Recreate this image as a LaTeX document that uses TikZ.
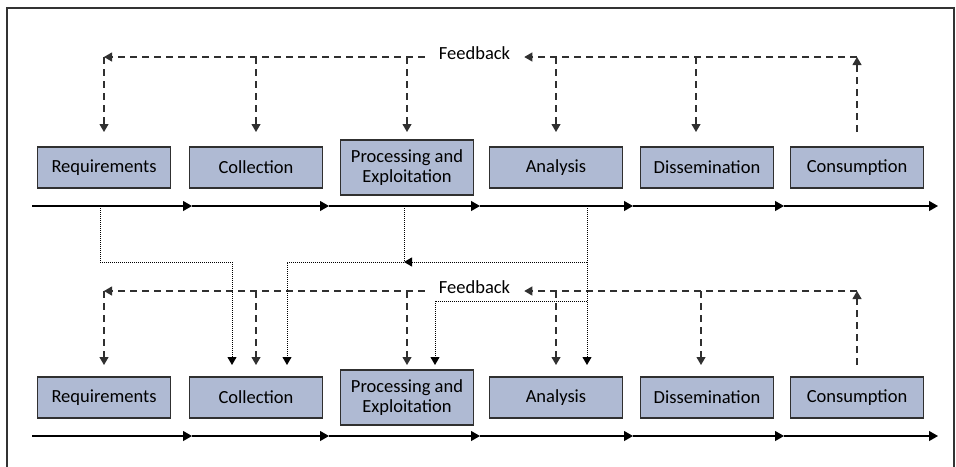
\documentclass[tikz,border=0pt]{standalone}
\usepackage{fontspec}
\setmainfont{Carlito}
\usepackage{tikz}
\usetikzlibrary{arrows.meta, calc}
\usepackage{xcolor}
\definecolor{boxblue}{HTML}{AFBAD3}
\definecolor{linegray}{HTML}{303030}

\begin{document}
\begin{tikzpicture}[x=1pt, y=-1pt,
  phase/.style={draw=linegray, line width=1.1pt, fill=boxblue, minimum width=133pt,
    minimum height=41pt, inner sep=1pt, align=center, font=\fontsize{18.5}{20}\selectfont},
  fbtext/.style={inner xsep=14pt, inner ysep=1pt, font=\fontsize{18.5}{20}\selectfont},
  flow/.style={line width=1.1pt, -{Triangle[length=9pt,width=10pt]}},
  fbarrow/.style={draw=linegray, line width=1.1pt, dash pattern=on 7pt off 5pt,
    -{Triangle[length=8pt,width=9pt]}},
  dotarrow/.style={line width=1pt, dash pattern=on 1pt off 1pt,
    -{Triangle[length=8pt,width=9pt]}}]
\useasboundingbox (0,0) rectangle (956,466);
\draw[line width=1.4pt, black!80] (7,480) -- (7,8) -- (954,8) -- (954,480);

\foreach \r/\dy/\fy/\ty/\dx in {1/0/57/132/696, 2/230/291/365/701} {
  % the six phases
  \node[phase] (req\r) at (104,167.5+\dy) {Requirements};
  \node[phase] (col\r) at (256,167.5+\dy) {Collection};
  \node[phase, minimum height=55pt] (proc\r) at (407,167.5+\dy) {Processing and\\Exploitation};
  \node[phase] (ana\r) at (556,167.5+\dy) {Analysis};
  \node[phase] (dis\r) at (707,167.5+\dy) {Dissemination};
  \node[phase] (con\r) at (857,167.5+\dy) {Consumption};
  % time line
  \foreach \x [count=\i] in {32,192,329,480,633,784,938}
    \coordinate (t\r\i) at (\x,206+\dy);
  \foreach \i [evaluate=\i as \j using int(\i+1)] in {1,...,6}
    \draw[flow] (t\r\i) -- (t\r\j);
  % feedback loop
  \node[fbtext] (fb\r) at (474.5,\fy-3.5) {Feedback};
  \coordinate (fbl\r) at (0,\fy);
  \coordinate (tip\r) at (0,\ty);
  \coordinate (disin\r) at (\dx,\ty);
  \draw[fbarrow] (con\r |- tip\r) -- (con\r |- fbl\r);
  \draw[fbarrow] (con\r |- fbl\r) -- (fb\r.east |- fbl\r);
  \draw[fbarrow] (fb\r.west |- fbl\r) -- (req\r |- fbl\r);
  \foreach \n in {req,col,proc,ana}
    \draw[fbarrow] (\n\r |- fbl\r) -- (\n\r |- tip\r);
  \draw[fbarrow] (disin\r |- fbl\r) -- (disin\r);
}

% links from the first cycle into the second
\coordinate (d1) at (100,262);
\coordinate (d2) at (404,262);
\coordinate (d3) at (587,262);
\coordinate (d4) at (587,301);
\draw[dotarrow] (d1 |- t11) -- (d1) -| ([xshift=-24pt]col2.north |- tip2);
\draw[dotarrow] (d2 |- t11) -- (d2) -| ([xshift=31pt]col2.north |- tip2);
\draw[dotarrow] (d3 |- t11) -- (d3 |- tip2);
\draw[dotarrow] (d3) -- (d2);
\draw[dotarrow] (d4) -| ([xshift=28pt]proc2.north |- tip2);
\end{tikzpicture}
\end{document}
